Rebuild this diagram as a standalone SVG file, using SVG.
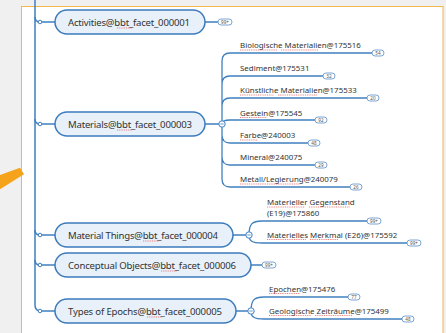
<svg xmlns="http://www.w3.org/2000/svg" width="446" height="333" viewBox="0 0 446 333">
<style>
.node rect{fill:#e8f1fa;stroke:#3b7bbd;stroke-width:1.5}
.nt{font-family:"Noto Sans","Open Sans",sans-serif;font-size:9.6px;fill:#333}
.ct{font-family:"Noto Sans","Open Sans",sans-serif;font-size:7.9px;fill:#333}
.ln{fill:none;stroke:#3f80c0;stroke-width:1.5}
.br{fill:none;stroke:#3f80c0;stroke-width:1.3}
.dot{fill:#fff;stroke:#3f80c0;stroke-width:1}
.badge rect{fill:#fff;stroke:#5b8fc7;stroke-width:0.8}
.badge text{font-family:"Noto Sans",sans-serif;font-size:4.6px;fill:#555;text-anchor:middle}
.sq{fill:none;stroke:#e03030;stroke-width:0.6;stroke-dasharray:1 0.8}
</style>
<rect width="446" height="333" fill="#f0f0f0"/>
<rect x="21.5" y="6.5" width="421.5" height="340" fill="#fff" stroke="#f2b84b" stroke-width="1"/>
<polygon points="0,175 20,167.7 24,174.3 0,189.3" fill="#f5a31a"/>

<g id="connectors">
  <path class="ln" d="M35,0 V305 Q35,311 41,311"/>
  <path class="ln" d="M35,17 Q35,22 40,22 H55 M35,119 Q35,124 40,124 H55 M35,230 Q35,235 40,235 H55 M35,260 Q35,265 40,265 H55 M40,311 H55"/>
  <path class="ln" d="M205,22 H218 M205,124 H222 M233,235 H249 M251,265 H262 M236,311 H251"/>
  <path class="br" d="M222,124 V61 Q222,53 230,53 H372 M222,124 V84 Q222,76 230,76 H323 M222,124 V106 Q222,98 230,98 H367 M222,124 Q222,120 230,120 H315 M222,124 V135 Q222,143 230,143 H308 M222,124 V157 Q222,165 230,165 H315 M222,124 V179 Q222,187 230,187 H350"/>
  <path class="br" d="M249,235 C249,224 252,221 262,221 H367 M249,235 C249,241 252,243 262,243 H407"/>
  <path class="br" d="M251,311 C251,300 254,297 264,297 H348 M251,311 C251,317 254,319 264,319 H402"/>
  <circle class="dot" cx="40" cy="22" r="1.8"/>
  <circle class="dot" cx="40" cy="124" r="1.8"/>
  <circle class="dot" cx="40" cy="235" r="1.8"/>
  <circle class="dot" cx="40" cy="265" r="1.8"/>
  <circle class="dot" cx="40" cy="311" r="1.8"/>
  <g class="dot"><circle cx="222" cy="124" r="3.2"/><circle cx="249" cy="235" r="3.2"/><circle cx="251" cy="311" r="3.2"/></g>
  <path d="M220.3,124 H223.7 M247.3,235 H250.7 M249.3,311 H252.7" stroke="#3f80c0" stroke-width="0.8"/>
</g>

<g id="n-activities" class="node">
  <rect x="55" y="10" width="150" height="24" rx="12"/>
  <text class="nt" x="68" y="25.5" textLength="122">Activities@bbt_facet_000001</text>
  <path class="sq" d="M117,28 H132"/>
</g>
<g id="n-materials" class="node">
  <rect x="55" y="112" width="150" height="24" rx="12"/>
  <text class="nt" x="68" y="127.5" textLength="124">Materials@bbt_facet_000003</text>
  <path class="sq" d="M117,130 H132"/>
</g>
<g id="n-materialthings" class="node">
  <rect x="55" y="223" width="178" height="24" rx="12"/>
  <text class="nt" x="68" y="238.5" textLength="150">Material Things@bbt_facet_000004</text>
  <path class="sq" d="M143,241 H159"/>
</g>
<g id="n-conceptual" class="node">
  <rect x="55" y="253" width="196" height="24" rx="12"/>
  <text class="nt" x="68" y="268.5" textLength="168">Conceptual Objects@bbt_facet_000006</text>
  <path class="sq" d="M161,271 H177"/>
</g>
<g id="n-epochs" class="node">
  <rect x="55" y="299" width="181" height="24" rx="12"/>
  <text class="nt" x="68" y="314.5" textLength="154">Types of Epochs@bbt_facet_000005</text>
  <path class="sq" d="M147,317 H162"/>
</g>

<g id="c-bio"><text class="ct" x="240" y="48">Biologische Materialien@175516</text></g>
<g id="c-sed"><text class="ct" x="240" y="71">Sediment@175531</text></g>
<g id="c-kuen"><text class="ct" x="240" y="93">Künstliche Materialien@175533</text></g>
<g id="c-gest"><text class="ct" x="240" y="115.5">Gestein@175545</text></g>
<g id="c-farbe"><text class="ct" x="240" y="138">Farbe@240003</text></g>
<g id="c-min"><text class="ct" x="240" y="160">Mineral@240075</text></g>
<g id="c-met"><text class="ct" x="240" y="182">Metall/Legierung@240079</text></g>
<g id="c-mg"><text class="ct" x="267" y="205">Materieller Gegenstand</text><text class="ct" x="267" y="215.5">(E19)@175860</text></g>
<g id="c-mm"><text class="ct" x="267" y="237.5">Materielles Merkmal (E26)@175592</text></g>
<g id="c-ep"><text class="ct" x="269" y="291.5">Epochen@175476</text></g>
<g id="c-geo"><text class="ct" x="269" y="313.5">Geologische Zeiträume@175499</text></g>

<g id="badges">
  <g class="badge"><rect x="218" y="19" width="14" height="6" rx="3"/><text x="225" y="23.6">99+</text></g>
  <g class="badge"><rect x="372" y="50" width="12" height="6" rx="3"/><text x="378" y="54.6">54</text></g>
  <g class="badge"><rect x="323" y="73" width="12" height="6" rx="3"/><text x="329" y="77.6">32</text></g>
  <g class="badge"><rect x="367" y="95" width="12" height="6" rx="3"/><text x="373" y="99.6">20</text></g>
  <g class="badge"><rect x="315" y="117" width="12" height="6" rx="3"/><text x="321" y="121.6">92</text></g>
  <g class="badge"><rect x="308" y="140" width="12" height="6" rx="3"/><text x="314" y="144.6">48</text></g>
  <g class="badge"><rect x="315" y="162" width="12" height="6" rx="3"/><text x="321" y="166.6">29</text></g>
  <g class="badge"><rect x="350" y="184" width="12" height="6" rx="3"/><text x="356" y="188.6">26</text></g>
  <g class="badge"><rect x="367" y="218" width="14" height="6" rx="3"/><text x="374" y="222.6">99+</text></g>
  <g class="badge"><rect x="407" y="240" width="14" height="6" rx="3"/><text x="414" y="244.6">99+</text></g>
  <g class="badge"><rect x="262" y="262" width="14" height="6" rx="3"/><text x="269" y="266.6">99+</text></g>
  <g class="badge"><rect x="348" y="294" width="12" height="6" rx="3"/><text x="354" y="298.6">77</text></g>
  <g class="badge"><rect x="402" y="316" width="12" height="6" rx="3"/><text x="408" y="320.6">48</text></g>
</g>

<g id="spellcheck" class="sq">
  <path d="M240,50 H277 M281,50 H318"/>
  <path d="M240,95 H274 M278,95 H317"/>
  <path d="M240,117.5 H267"/>
  <path d="M240,140 H258"/>
  <path d="M240,184 H300"/>
  <path d="M267,207 H305 M309,207 H350"/>
  <path d="M267,239.5 H306 M310,239.5 H338"/>
  <path d="M269,293.5 H300"/>
  <path d="M269,315.5 H311 M315,315.5 H352"/>
</g>
</svg>
